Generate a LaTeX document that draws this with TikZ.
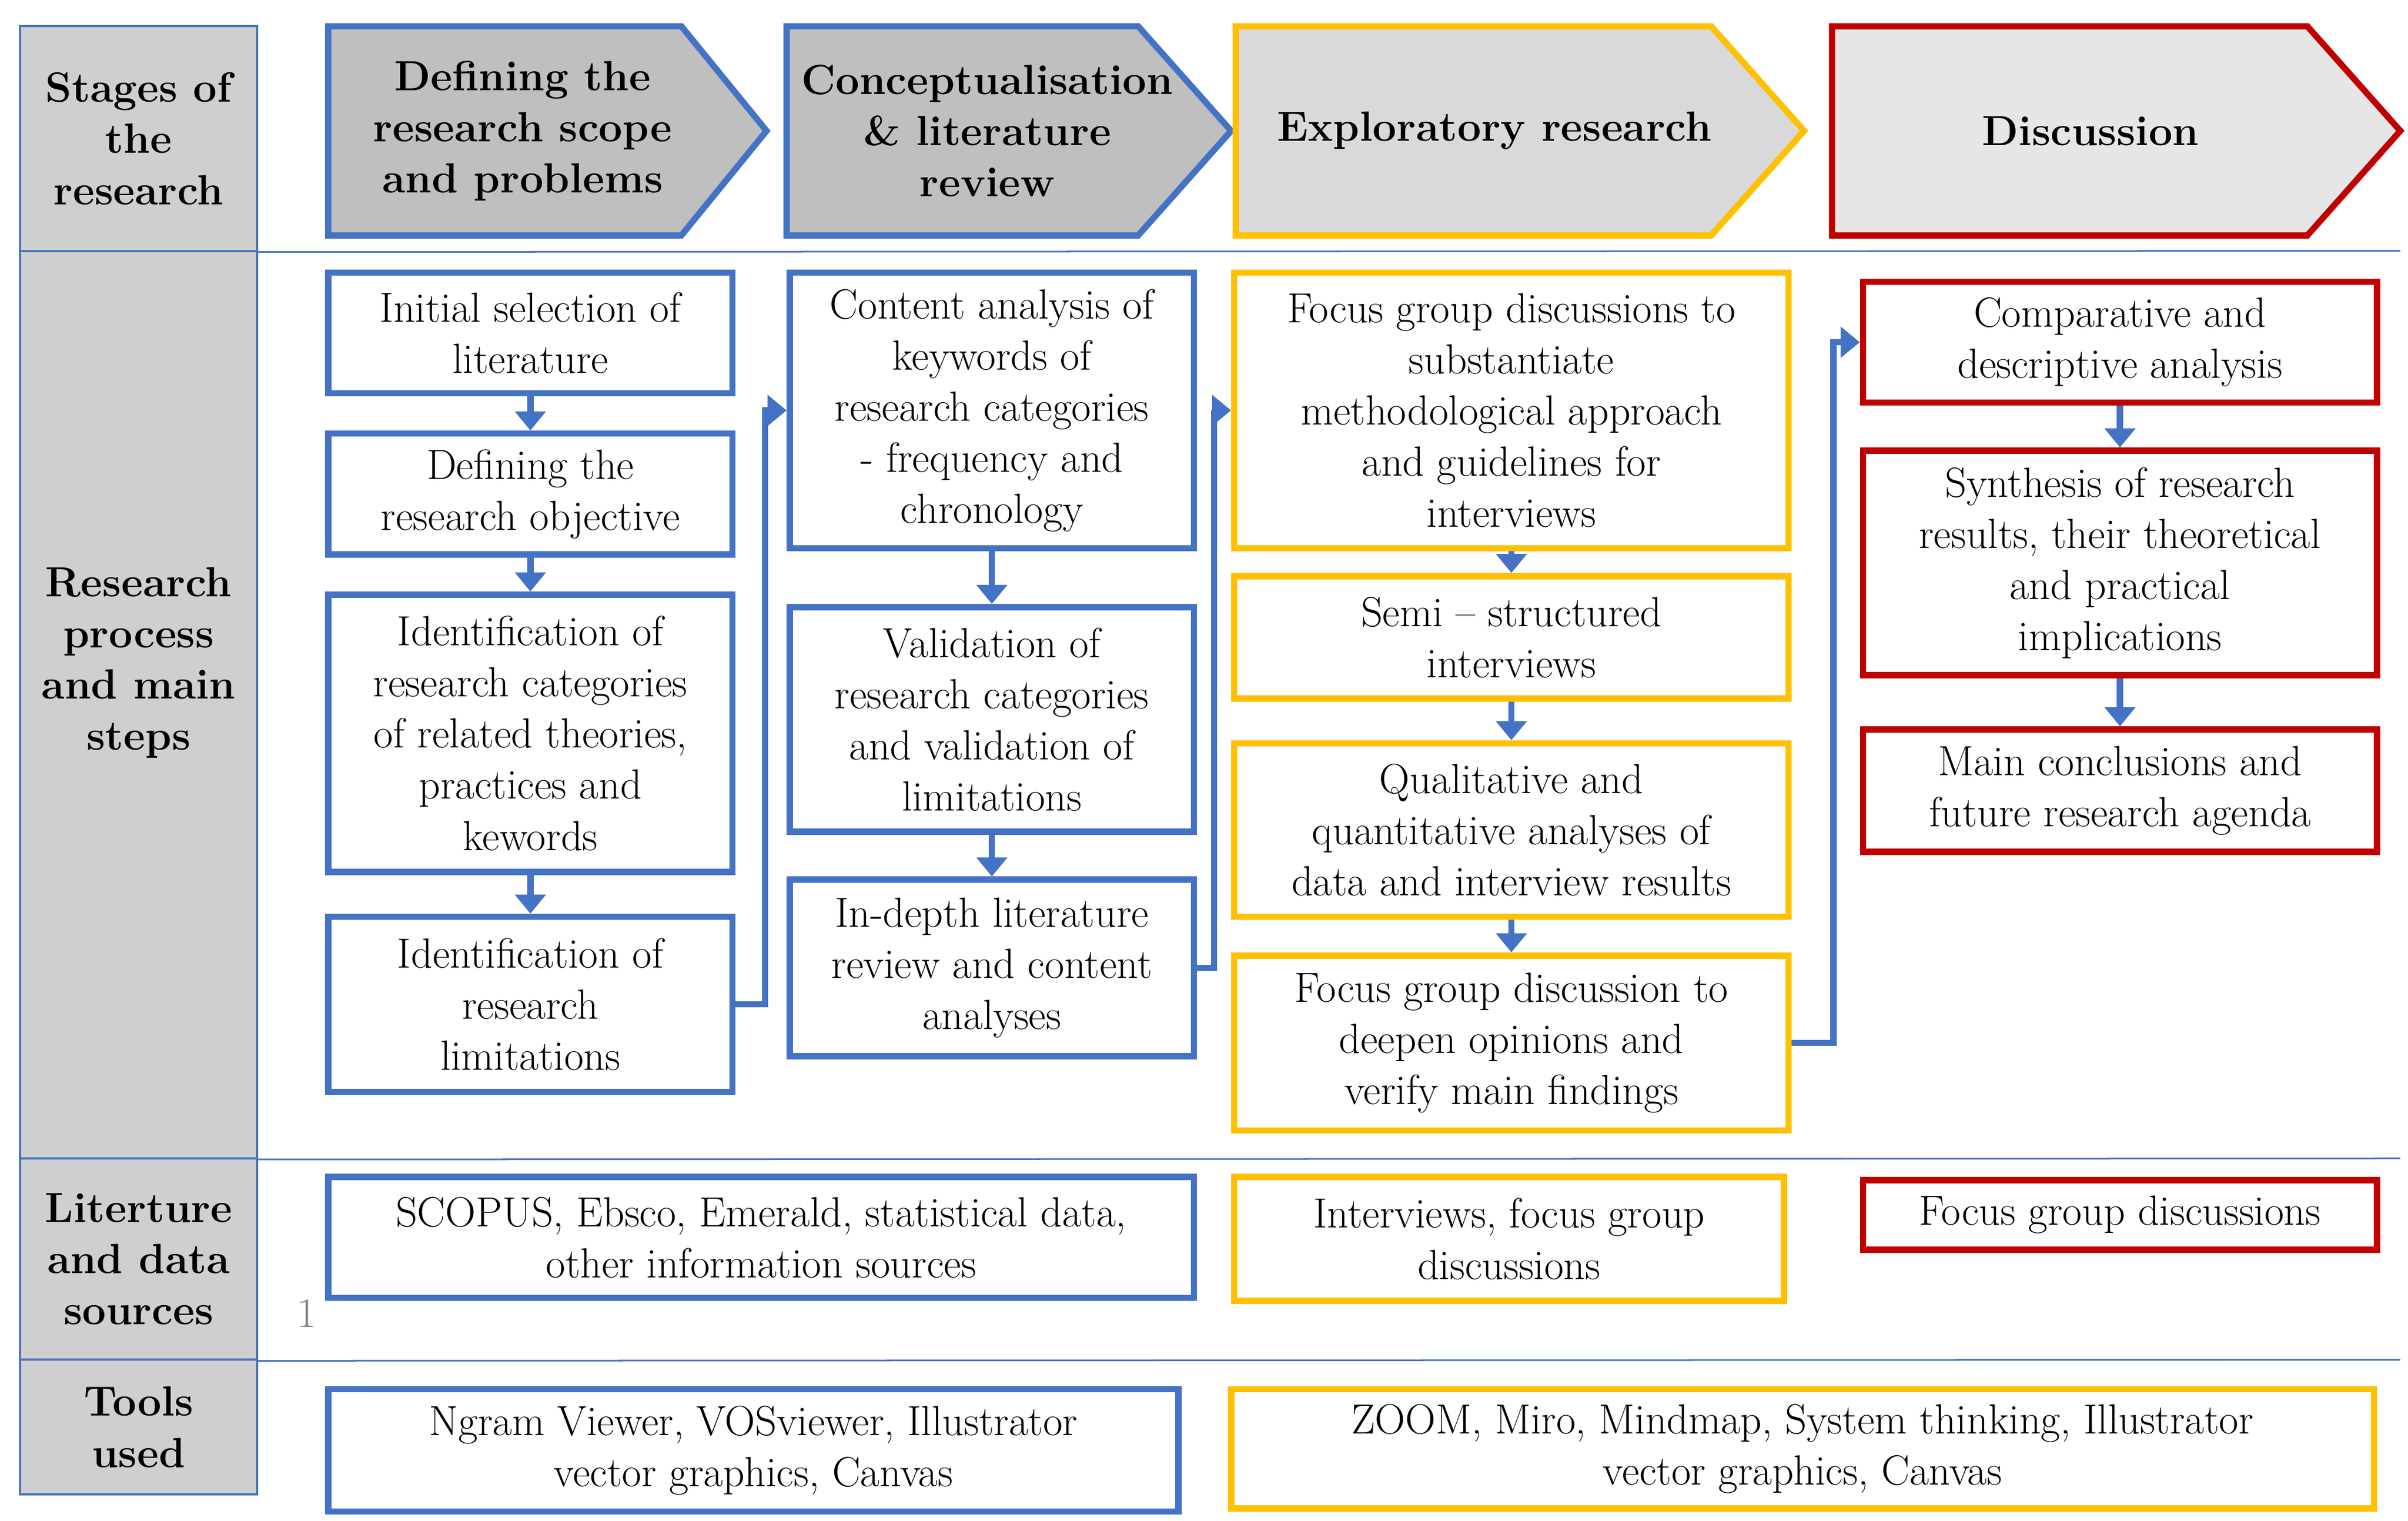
\documentclass[tikz,border=0pt]{standalone}
\usepackage{tikz}
\usetikzlibrary{arrows.meta,positioning}
\definecolor{stepblue}{HTML}{4472C4}
\definecolor{steporange}{HTML}{FFC000}
\definecolor{stepred}{HTML}{C00000}
\definecolor{rowgray}{HTML}{CFCFCF}
\definecolor{chevdark}{HTML}{BFBFBF}
\definecolor{chevmid}{HTML}{D9D9D9}
\definecolor{chevlight}{HTML}{E7E6E6}

\begin{document}
\begin{tikzpicture}[
    font=\fontsize{15.5}{18.8}\selectfont,
    box/.style={rectangle, line width=2.3pt, fill=white, align=center, inner sep=2pt},
    bluebox/.style={box, draw=stepblue},
    orangebox/.style={box, draw=steporange},
    redbox/.style={box, draw=stepred},
    rowhead/.style={rectangle, draw=stepblue, line width=0.8pt, fill=rowgray, align=center, font=\fontsize{15.5}{18.8}\selectfont\bfseries, minimum width=3.06cm},
    chevron/.style={line width=2.3pt},
    chevtext/.style={align=center, font=\fontsize{15.5}{18.8}\selectfont\bfseries},
    arrow/.style={stepblue, line width=2.3pt, -{Triangle[width=11pt,length=7pt]}}
]
\useasboundingbox (0,0) rectangle (31.1,-19.64);

% Row headers
\node[rowhead, minimum height=2.9cm] (hstage) at (1.79,-1.79) {Stages of\\the\\research};
\node[rowhead, minimum height=11.72cm] (hproc) at (1.79,-9.10) {};
\node[align=center, font=\fontsize{15.5}{18.8}\selectfont\bfseries] (hproctext) at (1.79,-8.56) {Research\\process\\and main\\steps};
\node[rowhead, minimum height=2.6cm] (hsrc) at (1.79,-16.26) {Literture\\and data\\sources};
\node[rowhead, minimum height=1.74cm] (htool) at (1.79,-18.43) {Tools\\used};

% Row separators
\draw[stepblue, line width=0.6pt] (hstage.south east) -- (31.0,-3.24);
\draw[stepblue, line width=0.6pt] (hproc.south east) -- (31.0,-14.96);
\draw[stepblue, line width=0.6pt] (hsrc.south east) -- (31.0,-17.56);

% Stage chevrons
\draw[chevron, draw=stepblue, fill=chevdark] (4.24,-0.34) -- (8.80,-0.34) -- (9.90,-1.69) -- (8.80,-3.04) -- (4.24,-3.04) -- cycle;
\node[chevtext] (stage1) at (6.75,-1.69) {Defining the\\research scope\\and problems};
\draw[chevron, draw=stepblue, fill=chevdark] (10.16,-0.34) -- (14.70,-0.34) -- (15.90,-1.69) -- (14.70,-3.04) -- (10.16,-3.04) -- cycle;
\node[chevtext] (stage2) at (12.75,-1.69) {Conceptualisation\\\& literature\\review};
\draw[chevron, draw=steporange, fill=chevmid] (15.96,-0.34) -- (22.10,-0.34) -- (23.30,-1.69) -- (22.10,-3.04) -- (15.96,-3.04) -- cycle;
\node[chevtext] (stage3) at (19.30,-1.69) {Exploratory research};
\draw[chevron, draw=stepred, fill=chevlight] (23.66,-0.34) -- (29.80,-0.34) -- (31.00,-1.69) -- (29.80,-3.04) -- (23.66,-3.04) -- cycle;
\node[chevtext] (stage4) at (27.00,-1.69) {Discussion};

% Column 1
\node[bluebox, minimum width=5.22cm, minimum height=1.56cm] (select) at (6.85,-4.30) {Initial selection of\\literature};
\node[bluebox, minimum width=5.22cm, minimum height=1.56cm] (objective) at (6.85,-6.38) {Defining the\\research objective};
\node[bluebox, minimum width=5.22cm, minimum height=3.58cm] (categories) at (6.85,-9.47) {Identification of\\research categories\\of related theories,\\practices and\\kewords};
\node[bluebox, minimum width=5.22cm, minimum height=2.26cm] (limits) at (6.85,-12.97) {Identification of\\research\\limitations};

% Column 2
\node[bluebox, minimum width=5.22cm, minimum height=3.56cm] (content) at (12.81,-5.30) {Content analysis of\\keywords of\\research categories\\- frequency and\\chronology};
\node[bluebox, minimum width=5.22cm, minimum height=2.90cm] (validation) at (12.81,-9.29) {Validation of\\research categories\\and validation of\\limitations};
\node[bluebox, minimum width=5.22cm, minimum height=2.28cm] (indepth) at (12.81,-12.50) {In-depth literature\\review and content\\analyses};

% Column 3
\node[orangebox, minimum width=7.16cm, minimum height=3.56cm] (focus1) at (19.52,-5.30) {Focus group discussions to\\substantiate\\methodological approach\\and guidelines for\\interviews};
\node[orangebox, minimum width=7.16cm, minimum height=1.58cm] (semi) at (19.52,-8.23) {Semi -- structured\\interviews};
\node[orangebox, minimum width=7.16cm, minimum height=2.24cm] (quali) at (19.52,-10.72) {Qualitative and\\quantitative analyses of\\data and interview results};
\node[orangebox, minimum width=7.16cm, minimum height=2.26cm] (focus2) at (19.52,-13.47) {Focus group discussion to\\deepen opinions and\\verify main findings};

% Column 4
\node[redbox, minimum width=6.64cm, minimum height=1.56cm] (compare) at (27.38,-4.42) {Comparative and\\descriptive analysis};
\node[redbox, minimum width=6.64cm, minimum height=2.90cm] (synth) at (27.38,-7.27) {Synthesis of research\\results, their theoretical\\and practical\\implications};
\node[redbox, minimum width=6.64cm, minimum height=1.58cm] (conclude) at (27.38,-10.21) {Main conclusions and\\future research agenda};

% Sources and tools
\node[bluebox, minimum width=11.18cm, minimum height=1.56cm] (src1) at (9.83,-15.98) {SCOPUS, Ebsco, Emerald, statistical data,\\other information sources};
\node[orangebox, minimum width=7.10cm, minimum height=1.60cm] (src2) at (19.49,-16.00) {Interviews, focus group\\discussions};
\node[redbox, minimum width=6.64cm, minimum height=0.90cm] (src3) at (27.38,-15.69) {Focus group discussions};
\node[text=gray] (pagenum) at (3.96,-16.96) {1};
\node[bluebox, minimum width=10.98cm, minimum height=1.58cm] (tool1) at (9.73,-18.73) {Ngram Viewer, VOSviewer, Illustrator\\vector graphics, Canvas};
\node[orangebox, minimum width=14.76cm, minimum height=1.54cm] (tool2) at (23.28,-18.71) {ZOOM, Miro, Mindmap, System thinking, Illustrator\\vector graphics, Canvas};

% Flow arrows
\draw[arrow] (select) -- (objective);
\draw[arrow] (objective) -- (categories);
\draw[arrow] (categories) -- (limits);
\draw[arrow] (content) -- (validation);
\draw[arrow] (validation) -- (indepth);
\draw[arrow] (focus1) -- (semi);
\draw[arrow] (semi) -- (quali);
\draw[arrow] (quali) -- (focus2);
\draw[arrow] (compare) -- (synth);
\draw[arrow] (synth) -- (conclude);
\draw[arrow] (limits.east) -- ++(0.38,0) |- (content.west);
\draw[arrow] (indepth.east) -- ++(0.22,0) |- (focus1.west);
\draw[arrow] (focus2.east) -- ++(0.54,0) |- (compare.west);

\end{tikzpicture}
\end{document}
